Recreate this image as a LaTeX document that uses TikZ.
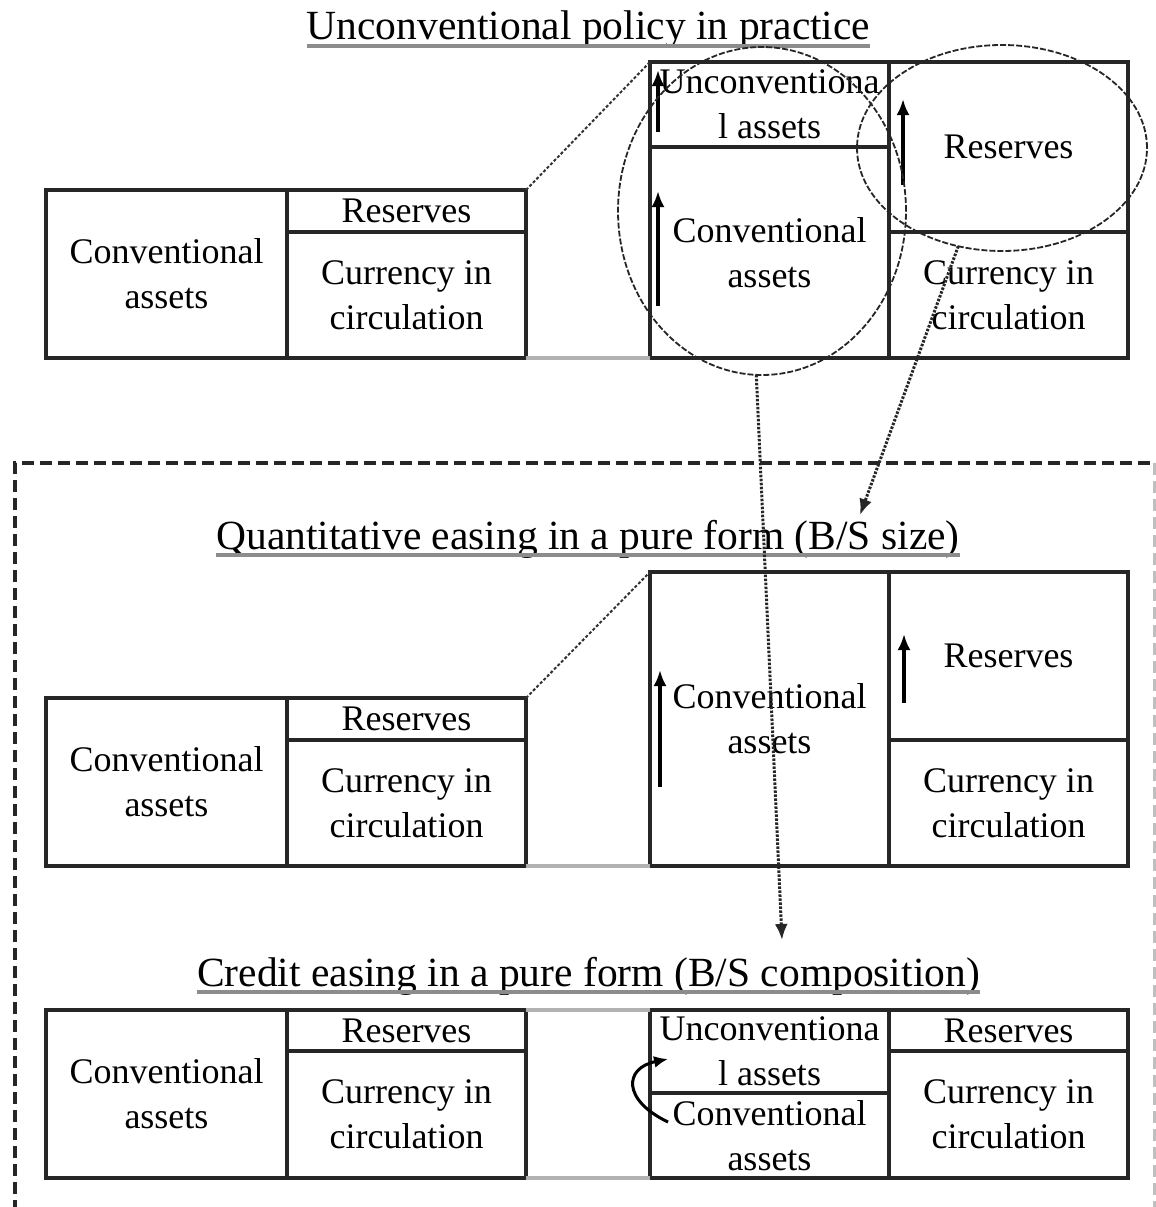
\documentclass[tikz,border=0pt]{standalone}
\usepackage{fontspec}
\setmainfont{Liberation Serif}
\usetikzlibrary{arrows.meta,shapes.geometric,calc}
\newcommand\mkcell[6]{%
 \pgfmathsetmacro\cw{#4-#2}\pgfmathsetmacro\ch{#5-#3}%
 \pgfmathsetmacro\cx{(#2+#4)/2}\pgfmathsetmacro\cy{(#3+#5)/2}%
 \node[cell, minimum width=\cw pt, minimum height=\ch pt] (#1) at (\cx,\cy) {#6};}
\begin{document}
\begin{tikzpicture}[x=1pt,y=-1pt,
  cell/.style={draw=black!85, line width=3.5pt, inner sep=0pt, outer sep=0pt, align=center, font=\fontsize{36}{45}\selectfont},
  ttl/.style={inner sep=0pt, anchor=base, font=\fontsize{41.5}{50}\selectfont},
  uline/.style={draw=black!45, line width=3.5pt},
  upar/.style={draw=black, line width=3.5pt, -{Latex[length=16pt,width=13pt]}},
  ring/.style={ellipse, draw=black!85, line width=1.8pt, dash pattern=on 6pt off 2pt, inner sep=0pt, outer sep=0pt},
  dotarrow/.style={draw=black!85, line width=3pt, dash pattern=on 2.5pt off 1.5pt, -{Latex[length=16pt,width=13pt]}},
  zoomline/.style={draw=black!80, line width=2pt, dash pattern=on 3pt off 2pt},
  gapline/.style={draw=black!30, line width=3.5pt},
  frame/.style={draw=black!85, line width=3.5pt, dash pattern=on 12pt off 6pt}]
\useasboundingbox (0,0) rectangle (1156,1207);
% dashed frame
\draw[frame] (15,1230) -- (15,463) -- (1155,463);
\draw[frame, draw=black!25] (1155,463) -- (1155,1230);
% titles
\node[ttl] (t1) at (588.5,40) {Unconventional policy in practice};
\draw[uline] ([yshift=-6pt]t1.base west) -- ([yshift=-6pt]t1.base east);
\node[ttl] (t2) at (588,549) {Quantitative easing in a pure form (B/S size)};
\draw[uline] ([yshift=-6pt]t2.base west) -- ([yshift=-6pt]t2.base east);
\node[ttl] (t3) at (588.5,986) {Credit easing in a pure form (B/S composition)};
\draw[uline] ([yshift=-6pt]t3.base west) -- ([yshift=-6pt]t3.base east);
% panel 1
\mkcell{pa1}{46}{190}{287}{358}{Conventional\\assets}
\mkcell{pa2}{287}{190}{526}{232}{Reserves}
\mkcell{pa3}{287}{232}{526}{358}{Currency in\\circulation}
\mkcell{pb1}{650}{62}{889}{147}{Unconventiona\\l assets}
\mkcell{pb2}{650}{147}{889}{358}{Conventional\\assets}
\mkcell{pb3}{889}{62}{1128}{232}{Reserves}
\mkcell{pb4}{889}{232}{1128}{358}{Currency in\\circulation}
\draw[gapline] (pa3.south east) -- (pb2.south west);
\draw[zoomline] (pa2.north east) -- (pb1.north west);
\coordinate (u1s) at (658,132); \coordinate (u1e) at (658,70);
\draw[upar] (u1s) -- (u1e);
\coordinate (u2s) at (658,306); \coordinate (u2e) at (658,191);
\draw[upar] (u2s) -- (u2e);
\coordinate (u3s) at (903,185); \coordinate (u3e) at (903,99);
\draw[upar] (u3s) -- (u3e);
% panel 2
\mkcell{qa1}{46}{698}{287}{866}{Conventional\\assets}
\mkcell{qa2}{287}{698}{526}{740}{Reserves}
\mkcell{qa3}{287}{740}{526}{866}{Currency in\\circulation}
\mkcell{qb1}{650}{572}{889}{866}{Conventional\\assets}
\mkcell{qb2}{889}{572}{1128}{740}{Reserves}
\mkcell{qb3}{889}{740}{1128}{866}{Currency in\\circulation}
\draw[gapline] (qa3.south east) -- (qb1.south west);
\draw[zoomline] (qa2.north east) -- (qb1.north west);
\coordinate (v1s) at (660,787); \coordinate (v1e) at (660,670);
\draw[upar] (v1s) -- (v1e);
\coordinate (v2s) at (904,703); \coordinate (v2e) at (904,634);
\draw[upar] (v2s) -- (v2e);
% panel 3
\mkcell{ra1}{46}{1010}{287}{1178}{Conventional\\assets}
\mkcell{ra2}{287}{1010}{526}{1051}{Reserves}
\mkcell{ra3}{287}{1051}{526}{1178}{Currency in\\circulation}
\mkcell{rb1}{650}{1010}{889}{1093}{Unconventiona\\l assets}
\mkcell{rb2}{650}{1093}{889}{1178}{Conventional\\assets}
\mkcell{rb3}{889}{1010}{1128}{1051}{Reserves}
\mkcell{rb4}{889}{1051}{1128}{1178}{Currency in\\circulation}
\draw[gapline] (ra2.north east) -- (rb1.north west);
\draw[gapline] (ra3.south east) -- (rb2.south west);
\coordinate (cs) at (668,1122); \coordinate (ct) at (668,1059);
\draw[draw=black, line width=3pt, -{Latex[length=14pt,width=12pt]}] (cs) .. controls (622,1100) and (624,1068) .. (ct);
% ellipses and links
\node[ring, minimum width=288pt, minimum height=328pt] (ell1) at (762,211) {};
\node[ring, minimum width=290pt, minimum height=206pt] (ell2) at (1002,148) {};
\coordinate (qe) at (860,515);
\draw[dotarrow] (ell2.246) -- (qe);
\coordinate (ce) at (782,940);
\draw[dotarrow] (ell1.268) -- (ce);
\end{tikzpicture}
\end{document}
